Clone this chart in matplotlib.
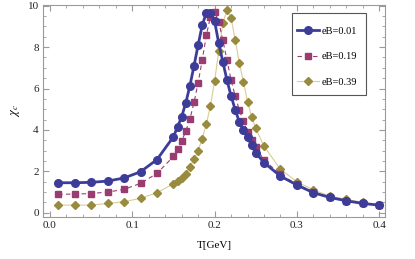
import matplotlib
matplotlib.use("Agg")
import matplotlib.pyplot as plt
from matplotlib.patches import Rectangle
from matplotlib.ticker import MultipleLocator

plt.rcParams['font.family'] = ['Liberation Serif', 'DejaVu Serif']
plt.rcParams['mathtext.fontset'] = 'stix'

# temperatures (GeV) shared by the three curves
T = [0.01, 0.03, 0.05, 0.07, 0.09, 0.11, 0.13, 0.15, 0.155, 0.16, 0.165,
     0.17, 0.175, 0.18, 0.185, 0.19, 0.195, 0.2, 0.205, 0.21, 0.215, 0.22,
     0.225, 0.23, 0.235, 0.24, 0.245, 0.25, 0.26, 0.28, 0.30, 0.32, 0.34,
     0.36, 0.38, 0.40]

chi_001 = [1.45, 1.45, 1.47, 1.53, 1.68, 1.98, 2.57, 3.67, 4.15, 4.64, 5.31,
           6.13, 7.10, 8.10, 9.07, 9.65, 9.65, 9.25, 8.20, 7.30, 6.41, 5.65,
           4.98, 4.40, 3.98, 3.64, 3.27, 2.90, 2.42, 1.77, 1.34, 0.97, 0.74,
           0.58, 0.45, 0.37]

chi_019 = [0.90, 0.90, 0.93, 1.00, 1.13, 1.42, 1.90, 2.72, 3.06, 3.46, 3.95,
           4.52, 5.33, 6.28, 7.38, 8.58, 9.47, 9.71, 9.23, 8.34, 7.38, 6.41,
           5.65, 4.96, 4.43, 3.91, 3.51, 3.16, 2.55, 1.85, 1.37, 1.01, 0.76,
           0.59, 0.46, 0.37]

chi_039 = [0.37, 0.37, 0.37, 0.45, 0.53, 0.70, 0.97, 1.40, 1.52, 1.66, 1.87,
           2.22, 2.58, 3.00, 3.58, 4.28, 5.18, 6.36, 7.80, 9.15, 9.79, 9.42,
           8.36, 7.25, 6.33, 5.36, 4.64, 4.08, 3.22, 2.10, 1.50, 1.10, 0.81,
           0.65, 0.50, 0.37]

labels = ['eB=0.01', 'eB=0.19', 'eB=0.39']

blue = (0.24, 0.24, 0.6)
magenta = (0.6, 0.24, 0.442)
gold = (0.6, 0.547, 0.24)

fig = plt.figure(figsize=(4.15, 2.59), dpi=100)
ax = fig.add_axes([0.1036, 0.1633, 0.824, 0.817])

ax.plot(T, chi_001, '-', color=blue, lw=2.0, marker='o', ms=5.5,
        label=labels[0], zorder=3)
ax.plot(T, chi_019, '--', color=magenta, lw=0.8, marker='s', ms=4.5,
        dashes=(4, 3), label=labels[1], zorder=2)
ax.plot(T, chi_039, '-', color=(0.85, 0.8, 0.6), lw=0.8, marker='D', ms=4.2,
        mfc=gold, mec=gold, label=labels[2], zorder=1)

ax.set_xlim(-0.0085, 0.407)
ax.set_ylim(-0.19, 10.03)

ax.xaxis.set_major_locator(MultipleLocator(0.1))
ax.xaxis.set_minor_locator(MultipleLocator(0.02))
ax.yaxis.set_major_locator(MultipleLocator(2))
ax.yaxis.set_minor_locator(MultipleLocator(0.5))
ax.set_xticks([0.0, 0.1, 0.2, 0.3, 0.4])
ax.set_xticklabels(['0.0', '0.1', '0.2', '0.3', '0.4'])

frame_col = '#9a9a9a'
for s in ax.spines.values():
    s.set_color(frame_col)
    s.set_linewidth(0.8)
ax.tick_params(which='both', direction='in', top=True, right=True,
               color=frame_col, labelsize=8, labelcolor='#222222', pad=3)
ax.tick_params(which='major', length=4)
ax.tick_params(which='minor', length=2)

ax.set_xlabel('T[GeV]', fontsize=8, labelpad=8)
ax.set_ylabel(r'$\chi_c$', fontsize=9, labelpad=4)

# legend frame drawn separately so the padding matches the original
ax.add_patch(Rectangle((0.727, 0.575), 0.217, 0.386, transform=ax.transAxes,
                       fill=True, facecolor='white', edgecolor='#555555',
                       lw=0.8, zorder=4))
leg = ax.legend(loc='upper left', bbox_to_anchor=(0.742, 0.898),
                fontsize=7.5, frameon=False, handlelength=2.1,
                labelspacing=1.55, borderpad=0, handletextpad=0.25,
                borderaxespad=0)
leg.set_zorder(5)

fig.savefig('out.png', dpi=100)
